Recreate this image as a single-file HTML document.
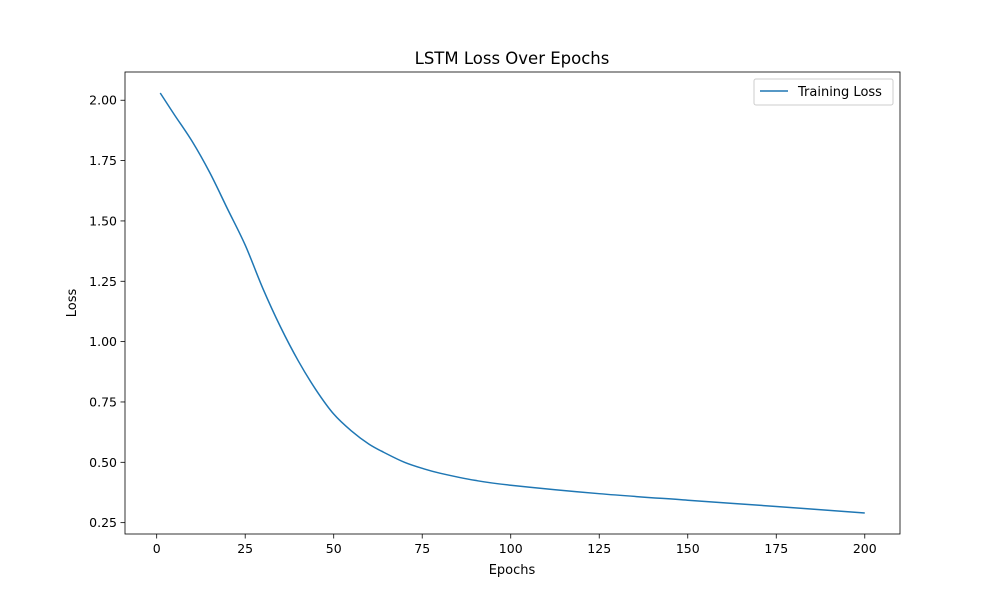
<!DOCTYPE html>
<html><head><meta charset="utf-8"><style>
body{margin:0;background:#fff;font-family:"Liberation Sans","DejaVu Sans",sans-serif}
</style></head><body>
<svg id="chart" width="1000" height="600" xmlns="http://www.w3.org/2000/svg" font-family="DejaVu Sans, Liberation Sans, sans-serif">
<rect width="1000" height="600" fill="#fff"/>
<text x="512" y="64" font-size="16.5" text-anchor="middle">LSTM Loss Over Epochs</text>
<g id="axes"></g>
<rect x="125" y="72" width="775" height="462" fill="none" stroke="#000" stroke-width="0.8"/>
<text x="512" y="574" font-size="13" text-anchor="middle">Epochs</text>
<text x="0" y="0" font-size="13" text-anchor="middle" transform="translate(76,303) rotate(-90)">Loss</text>
<g>
<rect x="754" y="79" width="139" height="26" fill="#fff" stroke="#ccc" rx="2"/>
<line x1="760" y1="91" x2="788" y2="91" stroke="#1f77b4" stroke-width="1.5"/>
<text x="798" y="96" font-size="13">Training Loss</text>
</g>
</svg>
<script>
const epochs=[1,5,10,15,20,25,30,35,40,45,50,55,60,65,70,75,80,90,100,125,150,175,200];
const losses=[2.03,1.94,1.83,1.70,1.55,1.40,1.22,1.06,0.92,0.80,0.70,0.63,0.575,0.535,0.50,0.475,0.455,0.425,0.405,0.37,0.343,0.317,0.29];
const xTicks=[0,25,50,75,100,125,150,175,200];
const yTicks=[0.25,0.50,0.75,1.00,1.25,1.50,1.75,2.00];
const L=125,R=900,T=72,B=534;
const xmin=-8.95,xmax=209.95,ymin=0.2030,ymax=2.1170;
const xs=v=>L+(v-xmin)/(xmax-xmin)*(R-L);
const ys=v=>B-(v-ymin)/(ymax-ymin)*(B-T);
const NS="http://www.w3.org/2000/svg",g=document.getElementById('axes');
function mk(t,a){const e=document.createElementNS(NS,t);for(const k in a)e.setAttribute(k,a[k]);g.appendChild(e);return e;}
xTicks.forEach(v=>{
 const l=mk('line',{x1:xs(v),x2:xs(v),y1:B,y2:B+4.5,stroke:'#000','stroke-width':0.8});
 
 
 const t=mk('text',{x:xs(v),y:B+19,'font-size':12.5,'text-anchor':'middle'});t.textContent=v;
 
 
});
yTicks.forEach(v=>{
 const l=mk('line',{x1:L-4.5,x2:L,y1:ys(v),y2:ys(v),stroke:'#000','stroke-width':0.8});
 
 
 const t=mk('text',{x:L-8,y:ys(v)+4.5,'font-size':12.5,'text-anchor':'end'});t.textContent=v.toFixed(2);
 
 
});
const P=epochs.map((e,i)=>[xs(e),ys(losses[i])]);
let d='M'+P[0][0]+','+P[0][1];
for(let i=0;i<P.length-1;i++){
 const p0=P[Math.max(0,i-1)],p1=P[i],p2=P[i+1],p3=P[Math.min(P.length-1,i+2)];
 const c1=[p1[0]+(p2[0]-p0[0])/6,p1[1]+(p2[1]-p0[1])/6];
 const c2=[p2[0]-(p3[0]-p1[0])/6,p2[1]-(p3[1]-p1[1])/6];
 d+=' C'+c1[0]+','+c1[1]+' '+c2[0]+','+c2[1]+' '+p2[0]+','+p2[1];
}
const p=mk('path',{d:d,fill:'none',stroke:'#1f77b4','stroke-width':1.5,'stroke-linejoin':'round'});


</script>
</body></html>
